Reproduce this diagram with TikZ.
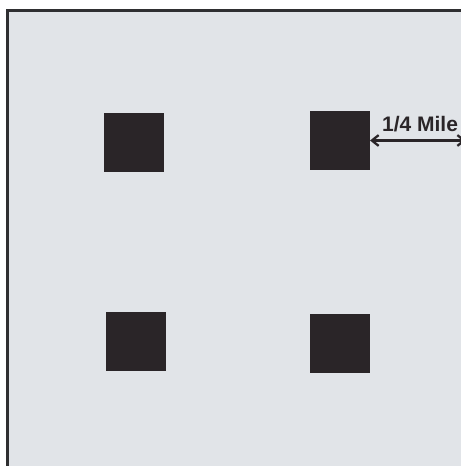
\documentclass[tikz,border=0pt]{standalone}
\usepackage{fontspec}
\setmainfont{Liberation Sans}
\usetikzlibrary{arrows.meta,calc,positioning}
\definecolor{lotink}{HTML}{2A2528}
\definecolor{lotframe}{HTML}{2F2F31}
\definecolor{lotpale}{HTML}{E1E4E8}
\tikzset{
  lot panel/.style={draw=lotframe, line width=2.6pt, fill=lotpale},
  lot house/.style={draw=none, fill=lotink, minimum width=60bp, minimum height=59bp,
    inner sep=0pt, outer sep=0pt},
  lot arrow/.style={{Straight Barb[length=2.4mm,width=3.8mm]}-{Straight Barb[length=2.4mm,width=3.8mm]},
    line width=2.3pt, draw=lotink},
  lot label/.style={font=\bfseries\fontsize{21bp}{24bp}\selectfont, text=lotink, inner sep=1pt}
}
\begin{document}
\begin{tikzpicture}[x=1bp, y=-1bp]
  \useasboundingbox (0,0) rectangle (461,466);
  \clip (0,0) rectangle (461,466);
  \fill[white] (0,0) rectangle (461,466);
  \draw[lot panel] (7.5,10.5) rectangle (475,480);

  \node[lot house] (nw) at (134,142.5) {};
  \node[lot house] (ne) at (340,140.5) {};
  \node[lot house] (sw) at (136,341.5) {};
  \node[lot house] (se) at (340,343) {};

  \coordinate (edge) at (466,140.5);
  \draw[lot arrow] (ne.east) -- node[lot label, above=6bp, xshift=2bp] (dist) {1/4 Mile} (edge);
\end{tikzpicture}
\end{document}
